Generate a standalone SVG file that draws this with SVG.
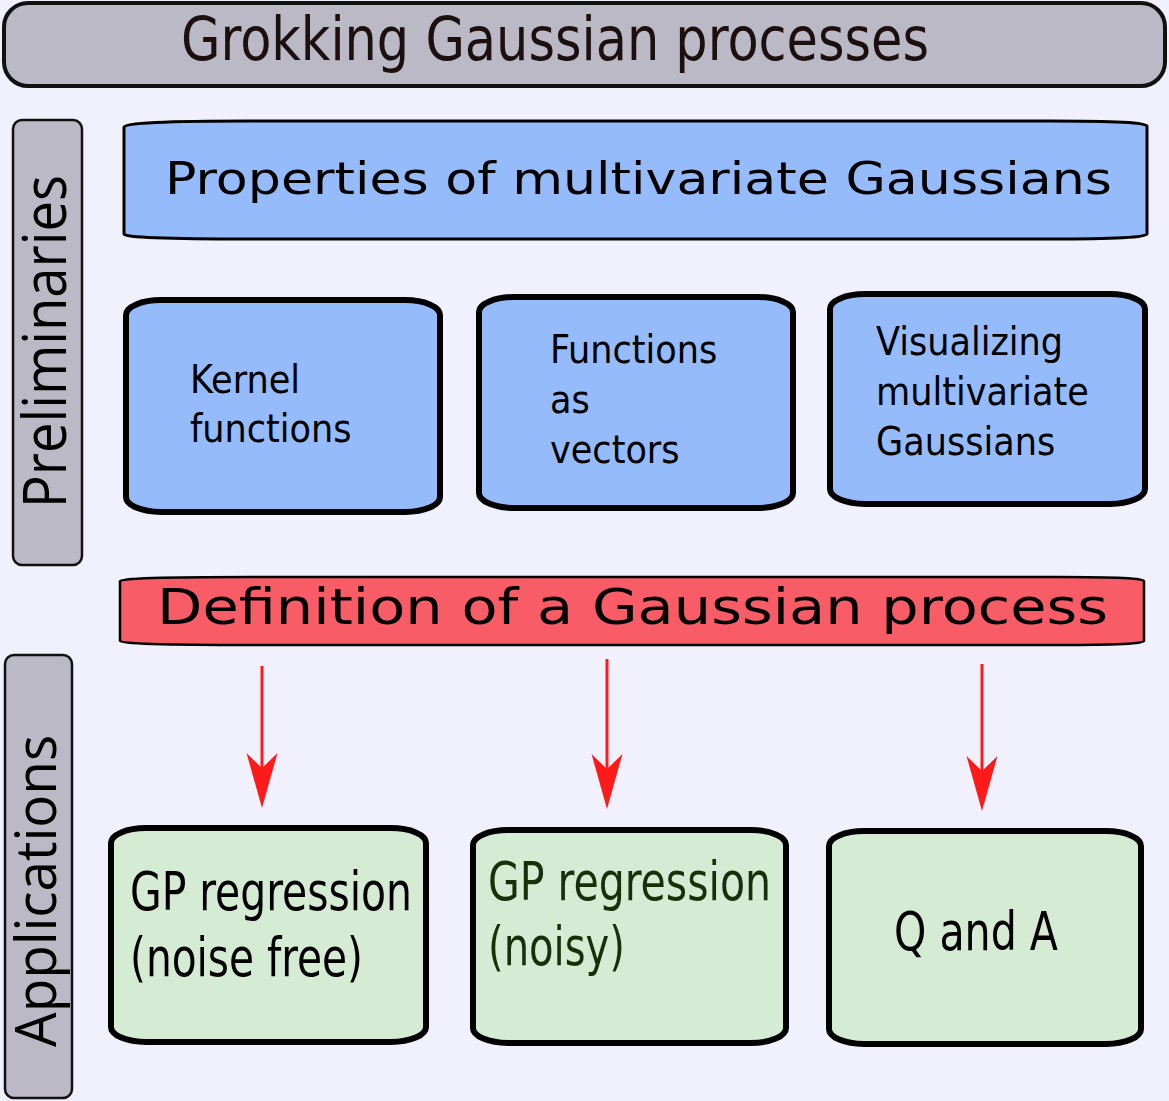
<svg xmlns="http://www.w3.org/2000/svg" width="1169" height="1101" viewBox="0 0 1169 1101">
<style>
.bg{fill:#f1f0fd}
.tab{fill:#bcb9c7;stroke:#111;stroke-width:2.5}
.hdr{fill:#bcb9c7;stroke:#111;stroke-width:4}
.blue{fill:#95bbfa;stroke:#000;stroke-width:6}
.bluewide{fill:#95bbfa;stroke:#000;stroke-width:3}
.red{fill:#f85d67;stroke:#000;stroke-width:2.5}
.green{fill:#d5ebd4;stroke:#000;stroke-width:6}
.cond{font-family:"DejaVu Sans Condensed","DejaVu Sans",sans-serif;fill:#000}
.wide{font-family:"DejaVu Sans",sans-serif;fill:#000}
.side{font-family:"Open Sans","Noto Sans",sans-serif;fill:#000}
.conn{stroke:#fd1a1a;stroke-width:3;fill:none}
</style>
<defs>
<marker id="ah" markerUnits="userSpaceOnUse" markerWidth="60" markerHeight="40" viewBox="-20 -20 60 40" refX="0" refY="0" orient="auto">
<path d="M40,0 L-15,-15.5 L0,0 L-15,15.5 Z" fill="#fd1a1a"/>
</marker>
</defs>
<rect class="bg" x="0" y="0" width="1169" height="1101"/>

<g id="title">
<rect class="hdr" x="4" y="3" width="1161" height="83" rx="24" ry="24"/>
<text class="cond" x="181" y="60" font-size="60" textLength="748" lengthAdjust="spacingAndGlyphs" style="fill:#1c0f10">Grokking Gaussian processes</text>
</g>

<g id="preliminaries">
<rect class="tab" x="13" y="120" width="69" height="445" rx="9" ry="9"/>
<text class="side" transform="translate(66,508) rotate(-90)" x="0" y="0" font-size="60" textLength="333" lengthAdjust="spacingAndGlyphs">Preliminaries</text>
</g>

<g id="applications">
<rect class="tab" x="5" y="655" width="67" height="443" rx="9" ry="9"/>
<text class="side" transform="translate(56,1047) rotate(-90)" x="0" y="0" font-size="56" textLength="312" lengthAdjust="spacingAndGlyphs">Applications</text>
</g>

<g id="properties">
<path class="bluewide" d="M124,127 Q124,121 250,121 L1050,121 Q1147,121 1147,126 L1147,234 Q1147,239 1050,239 L250,239 Q124,239 124,234 Z"/>
<text class="wide" x="165" y="194" font-size="45" textLength="947" lengthAdjust="spacingAndGlyphs">Properties of multivariate Gaussians</text>
</g>

<g id="kernel">
<rect class="blue" x="126" y="300" width="314" height="212" rx="35" ry="15"/>
<text class="cond" x="190" y="393" font-size="39">Kernel</text>
<text class="cond" x="190" y="442" font-size="39">functions</text>
</g>

<g id="functions-vectors">
<rect class="blue" x="479" y="297" width="314" height="211" rx="35" ry="15"/>
<text class="cond" x="550" y="363" font-size="39">Functions</text>
<text class="cond" x="550" y="413" font-size="39">as</text>
<text class="cond" x="550" y="463" font-size="39">vectors</text>
</g>

<g id="visualizing">
<rect class="blue" x="830" y="294" width="315" height="210" rx="35" ry="15"/>
<text class="cond" x="876" y="355" font-size="39">Visualizing</text>
<text class="cond" x="876" y="405" font-size="39">multivariate</text>
<text class="cond" x="876" y="455" font-size="39">Gaussians</text>
</g>

<g id="definition">
<path class="red" d="M120,581 Q120,577 250,577 L1060,577 Q1144,577 1144,581 L1144,641 Q1144,645 1060,645 L250,645 Q120,645 120,641 Z"/>
<text class="wide" x="157" y="624" font-size="50" textLength="951" lengthAdjust="spacingAndGlyphs">Definition of a Gaussian process</text>
</g>

<g id="connectors">
<line class="conn" x1="262" y1="666" x2="262" y2="768" marker-end="url(#ah)"/>
<line class="conn" x1="607" y1="659" x2="607" y2="769" marker-end="url(#ah)"/>
<line class="conn" x1="982" y1="664" x2="982" y2="771" marker-end="url(#ah)"/>
</g>

<g id="gp-noise-free">
<rect class="green" x="111" y="828" width="315" height="214" rx="35" ry="15"/>
<text class="cond" x="130" y="910" font-size="53" textLength="282" lengthAdjust="spacingAndGlyphs">GP regression</text>
<text class="cond" x="130" y="976" font-size="53" textLength="233" lengthAdjust="spacingAndGlyphs">(noise free)</text>
</g>

<g id="gp-noisy">
<rect class="green" x="473" y="830" width="313" height="213" rx="35" ry="15"/>
<text class="cond" x="488" y="900" font-size="53" textLength="283" lengthAdjust="spacingAndGlyphs" style="fill:#17300a">GP regression</text>
<text class="cond" x="488" y="965" font-size="53" textLength="137" lengthAdjust="spacingAndGlyphs" style="fill:#17300a">(noisy)</text>
</g>

<g id="qa">
<rect class="green" x="829" y="831" width="312" height="213" rx="35" ry="15"/>
<text class="cond" x="894" y="950" font-size="53" textLength="164" lengthAdjust="spacingAndGlyphs">Q and A</text>
</g>
</svg>
